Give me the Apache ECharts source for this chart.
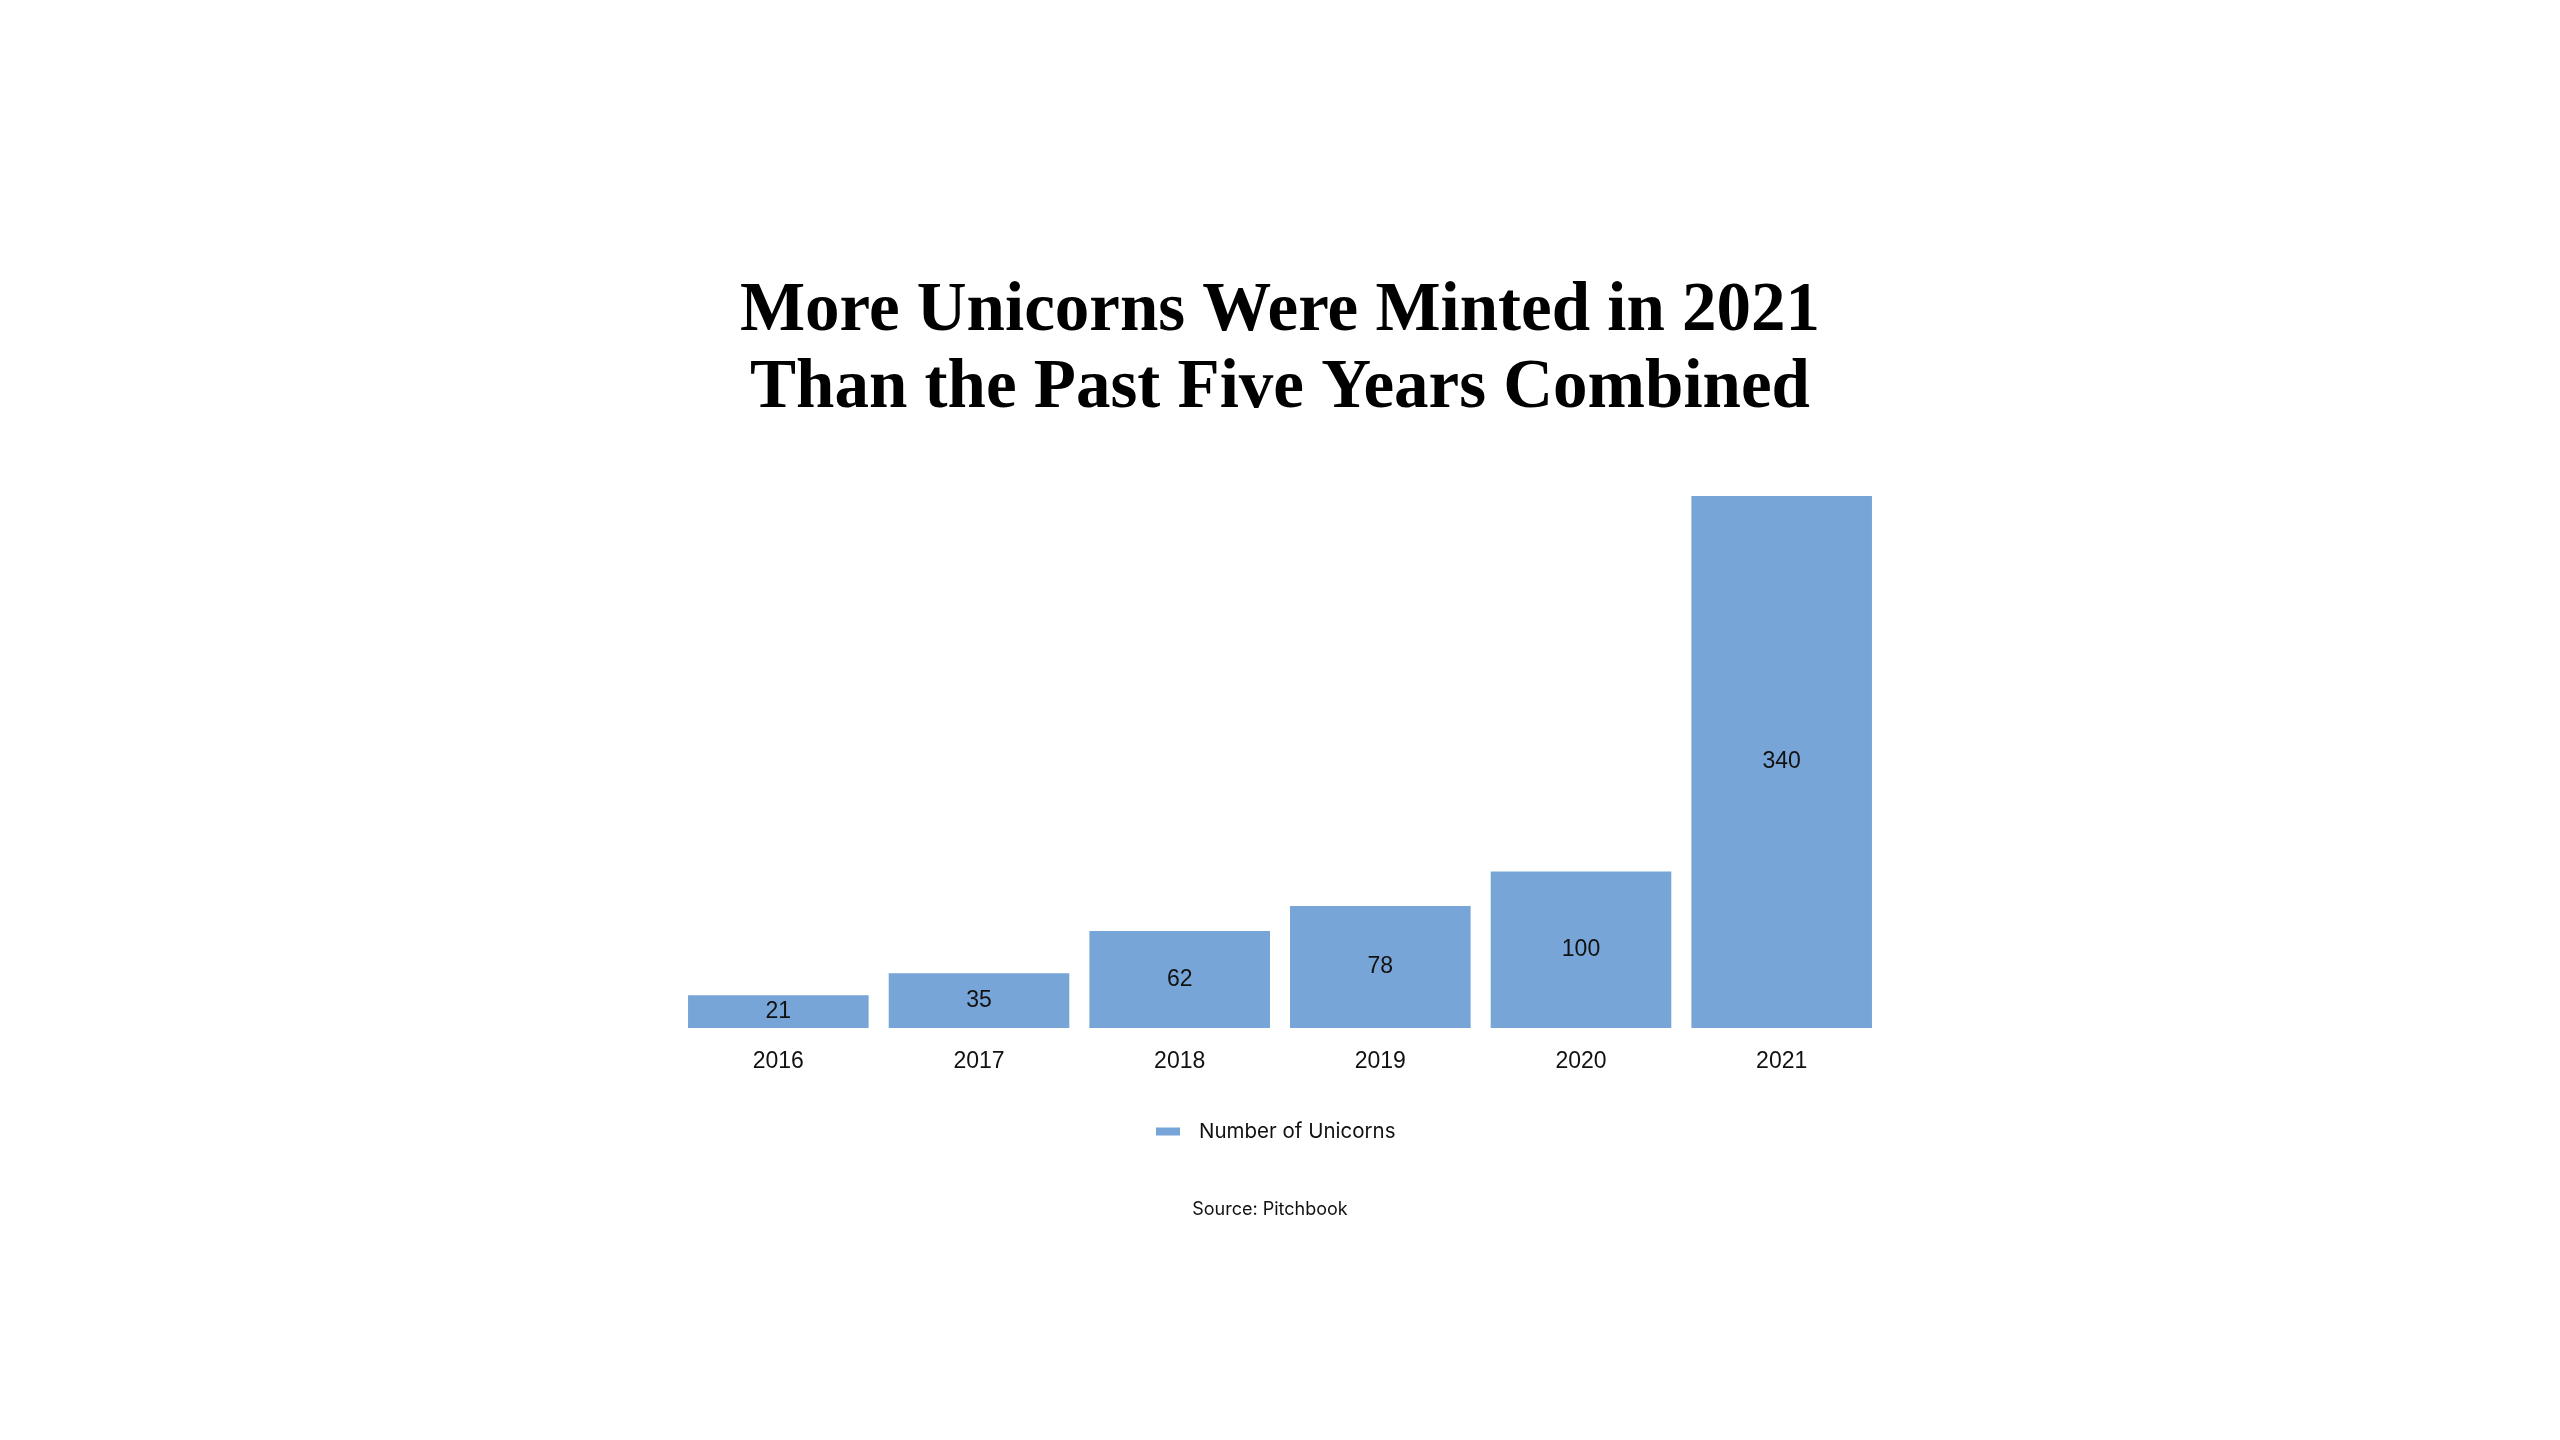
<!DOCTYPE html>
<html>
<head>
<meta charset="utf-8">
<style>
html,body{margin:0;padding:0;background:#fff;}
#chart{width:2560px;height:1440px;}
</style>
<script src="https://cdn.jsdelivr.net/npm/echarts@6/dist/echarts.min.js"></script>
</head>
<body>
<div id="chart"></div>
<script>
const titleText = 'More Unicorns Were Minted in 2021\nThan the Past Five Years Combined';
const sourceText = 'Source: Pitchbook';
const seriesName = 'Number of Unicorns';
const years = ['2016', '2017', '2018', '2019', '2020', '2021'];
const unicorns = [21, 35, 62, 78, 100, 340];

const chart = echarts.init(document.getElementById('chart'));
chart.setOption({
  backgroundColor: '#ffffff',
  animation: false,
  graphic: [
    {
      type: 'text',
      x: 1280,
      y: 274,
      style: {
        text: titleText,
        align: 'center',
        verticalAlign: 'top',
        fontFamily: 'Liberation Serif',
        fontWeight: 'bold',
        fontSize: 69,
        lineHeight: 77,
        fill: '#000000'
      }
    },
    {
      type: 'text',
      x: 1270,
      y: 1210,
      style: {
        text: sourceText,
        align: 'center',
        verticalAlign: 'middle',
        fontFamily: 'Inter',
        fontSize: 18,
        fill: '#111111'
      }
    }
  ],
  legend: {
    data: [seriesName],
    left: 1151,
    top: 1116,
    icon: 'rect',
    itemWidth: 24,
    itemHeight: 8,
    textStyle: {
      fontFamily: 'Inter',
      fontSize: 20.5,
      color: '#111111',
      padding: [0, 0, 0, 14]
    }
  },
  grid: {
    left: 678,
    right: 2560 - 1882,
    top: 496,
    bottom: 1440 - 1028,
    containLabel: false
  },
  xAxis: {
    type: 'category',
    data: years,
    axisLine: { show: false },
    axisTick: { show: false },
    axisLabel: {
      margin: 22,
      fontFamily: 'Liberation Sans',
      fontSize: 23,
      color: '#111111'
    }
  },
  yAxis: {
    type: 'value',
    min: 0,
    max: 340,
    show: false,
    splitLine: { show: false }
  },
  series: [
    {
      name: seriesName,
      type: 'bar',
      data: unicorns,
      barCategoryGap: '10%',
      itemStyle: { color: '#78a5d7' },
      label: {
        show: true,
        position: 'inside',
        fontFamily: 'Liberation Sans',
        fontSize: 23,
        color: '#111111'
      }
    }
  ]
});
</script>
</body>
</html>
